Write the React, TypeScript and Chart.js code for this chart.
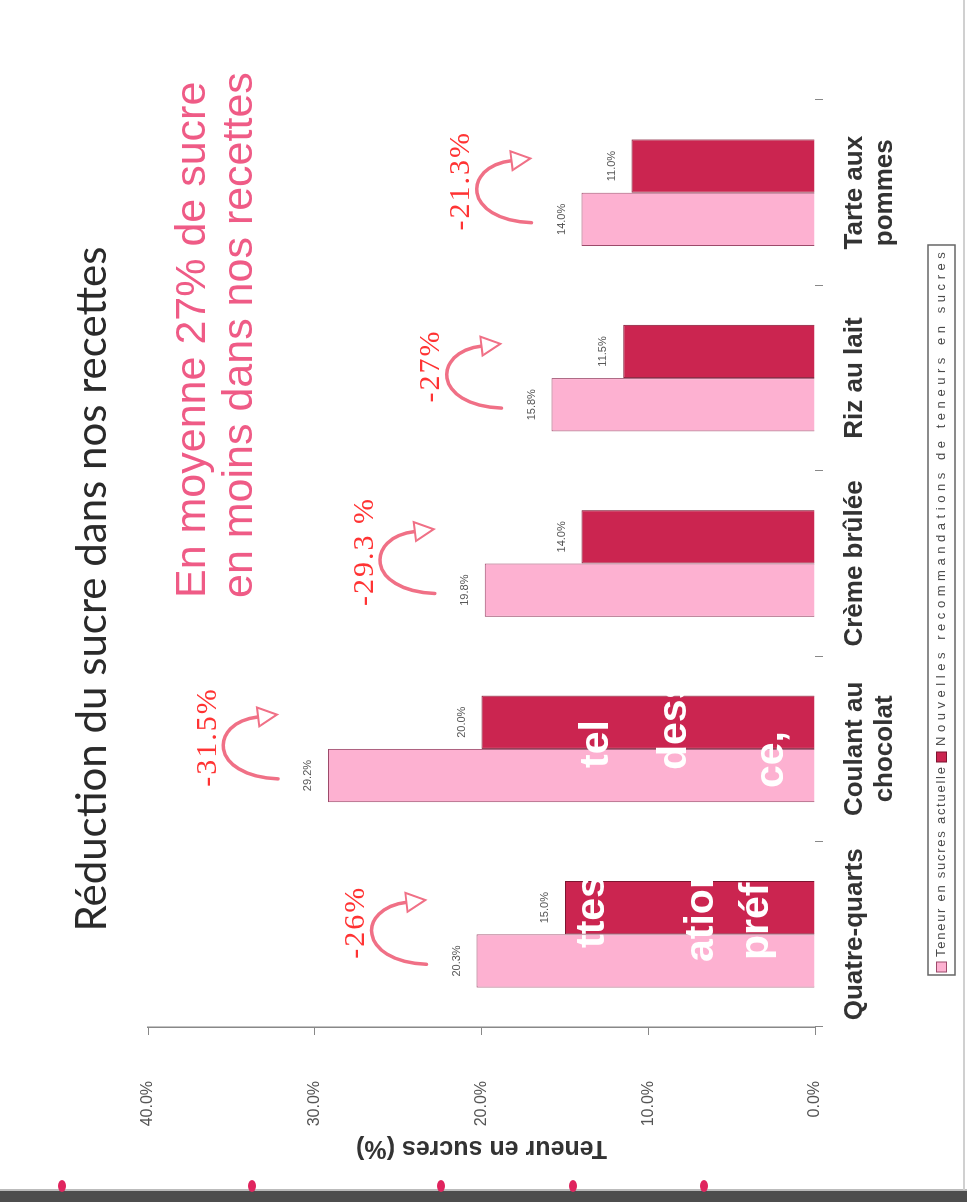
import React, { useEffect, useRef } from "react";
import { Chart, registerables } from "chart.js";

Chart.register(...registerables);

// ---------- data ----------
const categories: string[][] = [
  ["Quatre-quarts"],
  ["Coulant au", "chocolat"],
  ["Crème brûlée"],
  ["Riz au lait"],
  ["Tarte aux", "pommes"],
];
const currentSugar = [20.3, 29.2, 19.8, 15.8, 14.0];
const recommendedSugar = [15.0, 20.0, 14.0, 11.5, 11.0];
const reductionLabels = ["-26%", "-31.5%", "-29.3 %", "-27%", "-21.3%"];
const seriesNames = [
  "Teneur en sucres actuelle",
  "Nouvelles recommandations de teneurs en sucres",
];
const valueMin = 0;
const valueMax = 40;
const valueStep = 10;
const chartTitle = "Réduction du sucre dans nos recettes";
const subtitleLines = ["En moyenne 27% de sucre", "en moins dans nos recettes"];
const axisTitle = "Teneur en sucres (%)";

// ---------- styles ----------
const SANS = "'Liberation Sans', Arial, sans-serif";
const SERIF = "'Liberation Serif', 'Times New Roman', serif";
const W = 1202;
const H = 967;
const PINK = "#FDB1D1";
const PINK_BORDER = "#9C4A6A";
const DARK = "#CB2550";
const DARK_BORDER = "#7D1530";

function drawSpaced(ctx: CanvasRenderingContext2D, t: string, x: number, y: number, target: number) {
  (ctx as any).letterSpacing = "0px";
  const w = ctx.measureText(t).width;
  const sp = Math.max(0, (target - w) / Math.max(1, t.length - 1));
  (ctx as any).letterSpacing = sp.toFixed(2) + "px";
  ctx.fillText(t, x, y);
  (ctx as any).letterSpacing = "0px";
}

const overlayPlugin = {
  id: "overlay",
  afterDatasetsDraw(chart: any) {
    const ctx: CanvasRenderingContext2D = chart.ctx;
    const xs = chart.scales.x;
    const ys = chart.scales.y;
    ctx.save();

    // ghost slide text (white) seen through the bars
    ctx.fillStyle = "#ffffff";
    ctx.font = `bold 41px ${SANS}`;
    ctx.textAlign = "left";
    ctx.textBaseline = "alphabetic";
    const ghosts: [string, number, number][] = [
      ["ttes", 254, 604],
      ["ation", 240, 713],
      ["préfé", 242, 768],
      ["tel", 434, 608],
      ["dess", 432, 686],
      ["ce,", 414, 783],
    ];
    ghosts.forEach(([t, gx, gy]) => ctx.fillText(t, gx, gy));

    // value labels
    ctx.font = `11px ${SANS}`;
    ctx.fillStyle = "#555";
    ctx.textAlign = "center";
    ctx.textBaseline = "middle";
    [0, 1].forEach((di) => {
      const meta = chart.getDatasetMeta(di);
      meta.data.forEach((bar: any, i: number) => {
        const v = chart.data.datasets[di].data[i] as number;
        ctx.fillText(v.toFixed(1) + "%", bar.x, bar.y - 20);
      });
    });

    // curved arrows + reduction labels
    categories.forEach((_, i) => {
      const cx = xs.getPixelForValue(i);
      const base = currentSugar[i];
      const yT = ys.getPixelForValue(base + 3);
      const yA = ys.getPixelForValue(base + 6.2);
      const p0 = [cx - 30, yT];
      const p1 = [cx - 27, yA - 16];
      const p2 = [cx + 26, yA - 16];
      const p3 = [cx + 32, yT - 20];
      ctx.strokeStyle = "#F07086";
      ctx.lineWidth = 3.5;
      ctx.lineCap = "round";
      ctx.beginPath();
      ctx.moveTo(p0[0], p0[1]);
      ctx.bezierCurveTo(p1[0], p1[1], p2[0], p2[1], p3[0], p3[1]);
      ctx.stroke();
      const ang = Math.atan2(p3[1] - p2[1], p3[0] - p2[0]);
      const L = 19;
      const Wd = 9.5;
      const tip = [p3[0] + Math.cos(ang) * L, p3[1] + Math.sin(ang) * L];
      const nx = -Math.sin(ang);
      const ny = Math.cos(ang);
      ctx.beginPath();
      ctx.moveTo(tip[0], tip[1]);
      ctx.lineTo(p3[0] + nx * Wd, p3[1] + ny * Wd);
      ctx.lineTo(p3[0] - nx * Wd, p3[1] - ny * Wd);
      ctx.closePath();
      ctx.fillStyle = "#ffffff";
      ctx.fill();
      ctx.lineWidth = 2;
      ctx.stroke();

      ctx.fillStyle = "#FF3333";
      ctx.font = `30px ${SERIF}`;
      (ctx as any).letterSpacing = "2px";
      ctx.textAlign = "center";
      ctx.textBaseline = "middle";
      ctx.fillText(reductionLabels[i], cx + 12, ys.getPixelForValue(base + 7.2));
      (ctx as any).letterSpacing = "0px";
    });

    ctx.restore();
  },
  afterDraw(chart: any) {
    const ctx: CanvasRenderingContext2D = chart.ctx;
    ctx.save();
    // title
    ctx.fillStyle = "#2a2a2a";
    ctx.font = `42px Lato, ${SANS}`;
    ctx.textAlign = "center";
    ctx.textBaseline = "middle";
    ctx.fillText(chartTitle, 613, 92);
    // subtitle
    ctx.fillStyle = "#EF5B86";
    ctx.font = `43px ${SANS}`;
    ctx.textAlign = "left";
    ctx.fillText(subtitleLines[0], 604, 193);
    ctx.fillText(subtitleLines[1], 604, 240);

    // legend (framed, single row)
    const cy = 941.5;
    ctx.strokeStyle = "#666";
    ctx.lineWidth = 1.5;
    ctx.strokeRect(227, 928, 730, 27);
    ctx.fillStyle = PINK;
    ctx.fillRect(230, cy - 5, 10, 10);
    ctx.strokeStyle = PINK_BORDER;
    ctx.lineWidth = 1;
    ctx.strokeRect(230, cy - 5, 10, 10);
    ctx.fillStyle = DARK;
    ctx.fillRect(440, cy - 5, 10, 10);
    ctx.strokeStyle = DARK_BORDER;
    ctx.strokeRect(440, cy - 5, 10, 10);
    ctx.fillStyle = "#4a4a4a";
    ctx.font = `13px ${SANS}`;
    ctx.textAlign = "left";
    ctx.textBaseline = "middle";
    drawSpaced(ctx, seriesNames[0], 245, cy, 190);
    drawSpaced(ctx, seriesNames[1], 456, cy, 494);
    ctx.restore();
  },
};

export default function App() {
  const ref = useRef<HTMLCanvasElement | null>(null);

  useEffect(() => {
    if (!ref.current) return;
    const chart = new Chart(ref.current, {
      type: "bar",
      data: {
        labels: categories,
        datasets: [
          {
            label: seriesNames[0],
            data: currentSugar,
            backgroundColor: PINK,
            borderColor: PINK_BORDER,
            borderWidth: 1,
            categoryPercentage: 0.575,
            barPercentage: 1,
          },
          {
            label: seriesNames[1],
            data: recommendedSugar,
            backgroundColor: DARK,
            borderColor: DARK_BORDER,
            borderWidth: 1,
            categoryPercentage: 0.575,
            barPercentage: 1,
          },
        ],
      },
      options: {
        responsive: false,
        animation: false,
        devicePixelRatio: 1,
        layout: { padding: { top: 148, right: 100, bottom: 43, left: 0 } },
        plugins: {
          legend: { display: false },
          tooltip: { enabled: false },
          title: { display: false },
        },
        scales: {
          x: {
            grid: { drawOnChartArea: false, tickLength: 8, color: "#888", offset: true },
            border: { display: false },
            ticks: {
              font: { family: SANS, size: 26, weight: "bold", lineHeight: 1.154 },
              color: "#333",
              padding: 17,
              maxRotation: 0,
              autoSkip: false,
            },
            afterFit: (s: any) => {
              s.height = 109;
            },
          },
          y: {
            min: valueMin,
            max: valueMax,
            ticks: {
              stepSize: valueStep,
              callback: (v: any) => Number(v).toFixed(1) + "%",
              font: { family: SANS, size: 16 },
              color: "#555",
              padding: 46,
            },
            grid: { drawOnChartArea: false, tickLength: 8, color: "#888" },
            border: { display: true, color: "#888", width: 1.5 },
            title: {
              display: true,
              text: axisTitle,
              font: { family: SANS, size: 25, weight: "bold" },
              color: "#333",
              padding: { top: 39, bottom: 0 },
            },
            afterFit: (s: any) => {
              s.width = 175;
            },
          },
        },
      } as any,
      plugins: [overlayPlugin],
    });
    return () => chart.destroy();
  }, []);

  const dotsX = [62, 252, 441, 573, 704];

  return (
    <div
      style={{
        position: "fixed",
        left: 0,
        top: 0,
        width: 967,
        height: 1202,
        overflow: "hidden",
        background: "#ffffff",
      }}
    >
      <div
        style={{
          position: "absolute",
          left: 0,
          top: 0,
          width: W,
          height: H,
          transformOrigin: "0 0",
          transform: `translate(0px, ${W}px) rotate(-90deg)`,
        }}
      >
        <canvas ref={ref} width={W} height={H} style={{ display: "block", width: W, height: H }} />
      </div>
      <div style={{ position: "absolute", left: 0, top: 1189, width: 967, height: 2, background: "#bbb" }} />
      <div style={{ position: "absolute", left: 0, top: 1191, width: 967, height: 11, background: "#4d4d4d" }} />
      <div style={{ position: "absolute", left: 963, top: 0, width: 2, height: 1190, background: "#d0d0d0" }} />
      {dotsX.map((x) => (
        <div
          key={x}
          style={{
            position: "absolute",
            left: x - 4,
            top: 1180,
            width: 8,
            height: 12,
            borderRadius: "50%",
            background: "#E0245E",
          }}
        />
      ))}
    </div>
  );
}
